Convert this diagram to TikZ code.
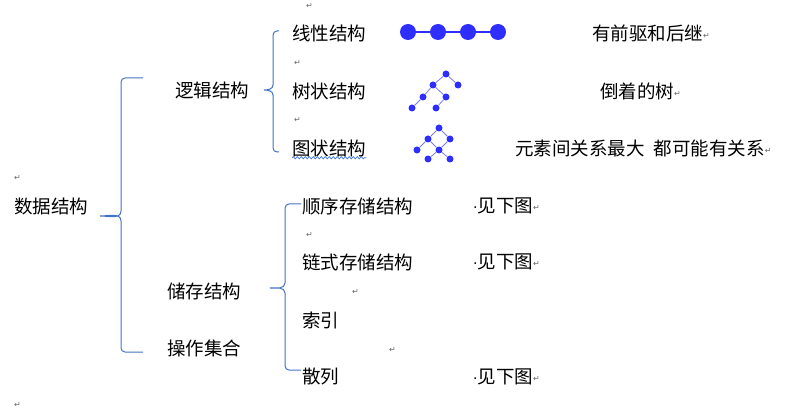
\documentclass[tikz,border=0pt]{standalone}
\usepackage{fontspec}
\setmainfont{Noto Sans CJK SC}
\newfontfamily\symfont{DejaVu Sans}
\usetikzlibrary{decorations.pathmorphing}
\definecolor{braceblue}{HTML}{4472C4}
\definecolor{dotblue}{HTML}{2E2EFF}
\definecolor{edgeblue}{HTML}{7A7AFF}
\definecolor{wavyblue}{HTML}{3C78D8}
\def\parmark{{\symfont\fontsize{8}{8}\selectfont\textcolor{black!60}{↵}}}
\def\seemark{{\symfont\fontsize{14}{14}\selectfont·}见下图\raisebox{2pt}{\parmark}}
% tip x, line x, end x, top y, middle y, bottom y
\def\leftbrace#1#2#3#4#5#6{%
  \draw[brace] (#3,#4) -- (#2+4,#4) to[out=180,in=90] (#2,#4+4)
    -- (#2,#5-5) to[out=-90,in=0] (#1,#5) to[out=0,in=90] (#2,#5+5)
    -- (#2,#6-4) to[out=-90,in=180] (#2+4,#6) -- (#3,#6);}

\begin{document}
\begin{tikzpicture}[x=1pt,y=-1pt,
    txt/.style={anchor=west,inner sep=0pt,font=\fontsize{18.5}{20}\selectfont},
    pm/.style={anchor=west,inner sep=0pt},
    brace/.style={draw=braceblue,line width=1pt},
    bigdot/.style={circle,fill=dotblue,inner sep=0pt,minimum size=16pt},
    smalldot/.style={circle,fill=dotblue,inner sep=0pt,minimum size=7pt},
    bigedge/.style={dotblue,line width=1.5pt},
    smalledge/.style={edgeblue,line width=0.8pt}]
    \useasboundingbox (0,0) rectangle (785,414);

    \leftbrace{100}{121}{143}{78}{216}{352}
    \leftbrace{264}{273}{279}{31}{90}{152}
    \leftbrace{270}{285}{301}{204}{288}{370}

    \node[txt] (data) at (14,206) {数据结构};
    \node[txt] (logic) at (175,90) {逻辑结构};
    \node[txt] (linear) at (292,33) {线性结构};
    \node[txt] (tree) at (292,91) {树状结构};
    \node[txt] (graph) at (292,148) {图状结构};
    \node[txt] (store) at (167,291) {储存结构};
    \node[txt] (ops) at (167,348) {操作集合};
    \node[txt] (seq) at (302,206) {顺序存储结构};
    \node[txt] (chain) at (302,262) {链式存储结构};
    \node[txt] (index) at (302,320) {索引};
    \node[txt] (hash) at (302,377) {散列};

    \node[txt] (lineardesc) at (592,33) {有前驱和后继\raisebox{2pt}{\parmark}};
    \node[txt] (treedesc) at (600,91) {倒着的树\raisebox{2pt}{\parmark}};
    \node[txt] (graphdesc) at (515,148) {元素间关系最大\hspace{0.5em}都可能有关系\raisebox{2pt}{\parmark}};
    \node[txt] (seeseq) at (473,206) {\seemark};
    \node[txt] (seechain) at (473,262) {\seemark};
    \node[txt] (seehash) at (473,377) {\seemark};

    \draw[wavyblue,line width=0.7pt,decorate,decoration={snake,amplitude=1.1pt,segment length=4pt}]
        ([yshift=-1pt]graph.south west) -- ([yshift=-1pt]graph.south east);

    % linear list
    \node[bigdot] (l1) at (408,32) {};
    \node[bigdot] (l2) at (438,32) {};
    \node[bigdot] (l3) at (468,32) {};
    \node[bigdot] (l4) at (498,32) {};
    \draw[bigedge] (l1) -- (l2) -- (l3) -- (l4);

    % upside-down tree
    \node[smalldot] (t1) at (446,74) {};
    \node[smalldot] (t2) at (433,85) {};
    \node[smalldot] (t3) at (458,85) {};
    \node[smalldot] (t4) at (423,97) {};
    \node[smalldot] (t5) at (446,97) {};
    \node[smalldot] (t6) at (412,108) {};
    \node[smalldot] (t7) at (436,108) {};
    \draw[smalledge] (t1) -- (t2) (t1) -- (t3) (t2) -- (t4) (t2) -- (t5)
        (t4) -- (t6) (t5) -- (t7);

    % graph
    \node[smalldot] (g1) at (439,128) {};
    \node[smalldot] (g2) at (428,139) {};
    \node[smalldot] (g3) at (450,139) {};
    \node[smalldot] (g4) at (417,150) {};
    \node[smalldot] (g5) at (439,150) {};
    \node[smalldot] (g6) at (428,159) {};
    \node[smalldot] (g7) at (450,159) {};
    \draw[smalledge] (g1) -- (g2) (g1) -- (g3) (g2) -- (g4) (g2) -- (g5)
        (g3) -- (g5) (g5) -- (g6) (g5) -- (g7);

    \node[pm] (pm1) at (306,6) {\parmark};
    \node[pm] (pm2) at (294,63) {\parmark};
    \node[pm] (pm3) at (294,120) {\parmark};
    \node[pm] (pm4) at (14,178) {\parmark};
    \node[pm] (pm5) at (306,235) {\parmark};
    \node[pm] (pm6) at (352,292) {\parmark};
    \node[pm] (pm7) at (389,350) {\parmark};
    \node[pm] (pm8) at (14,405) {\parmark};
\end{tikzpicture}
\end{document}
